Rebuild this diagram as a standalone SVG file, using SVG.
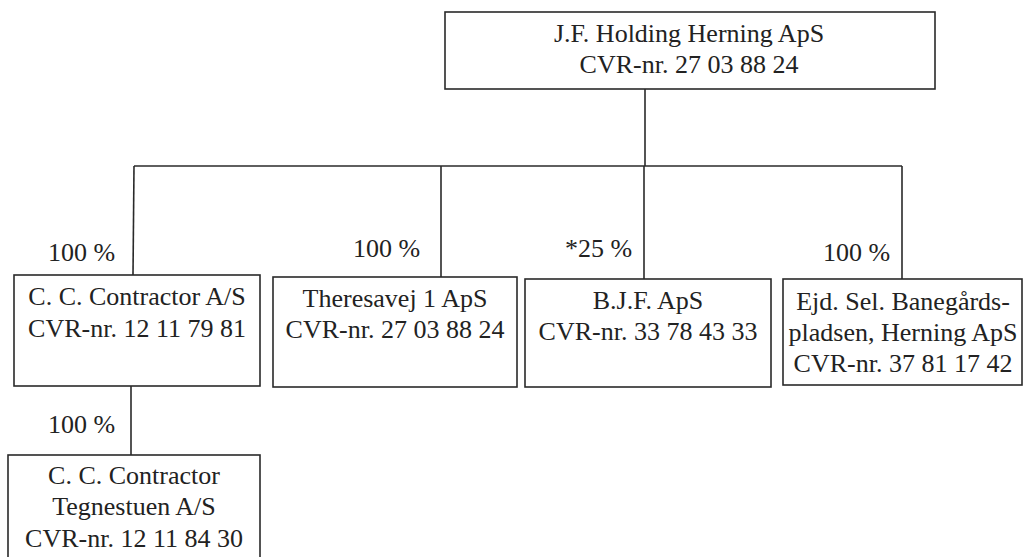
<svg xmlns="http://www.w3.org/2000/svg" width="1025" height="557" viewBox="0 0 1025 557">
<style>
.box{fill:#fff;stroke:#2a2a2a;stroke-width:1.6}
.ln{stroke:#2a2a2a;stroke-width:1.6;fill:none}
text{font-family:"Liberation Serif","Times New Roman",serif;font-size:26px;fill:#222}
.c{text-anchor:middle}
</style>
<rect width="1025" height="557" fill="#fff"/>
<g id="connectors">
<line class="ln" x1="645" y1="89" x2="645" y2="166"/>
<line class="ln" x1="134" y1="166" x2="902" y2="166"/>
<line class="ln" x1="134" y1="166" x2="133" y2="275"/>
<line class="ln" x1="441" y1="166" x2="441" y2="277"/>
<line class="ln" x1="644" y1="166" x2="644" y2="279"/>
<line class="ln" x1="902" y1="166" x2="902" y2="279"/>
<line class="ln" x1="131" y1="386" x2="131" y2="455"/>
<text x="48" y="261">100 %</text>
<text x="353" y="257">100 %</text>
<text x="565" y="257">*25 %</text>
<text x="823" y="261">100 %</text>
<text x="48" y="433">100 %</text>
</g>
<g id="holding">
<rect class="box" x="445" y="12" width="490" height="77"/>
<text class="c" x="689" y="42">J.F. Holding Herning ApS</text>
<text class="c" x="689" y="73">CVR-nr. 27 03 88 24</text>
</g>
<g id="cc-contractor">
<rect class="box" x="14" y="275" width="246" height="111"/>
<text class="c" x="137" y="305">C. C. Contractor A/S</text>
<text class="c" x="137" y="337">CVR-nr. 12 11 79 81</text>
</g>
<g id="theresavej">
<rect class="box" x="273" y="277" width="244" height="110"/>
<text class="c" x="395" y="307">Theresavej 1 ApS</text>
<text class="c" x="395" y="338">CVR-nr. 27 03 88 24</text>
</g>
<g id="bjf">
<rect class="box" x="525" y="279" width="246" height="108"/>
<text class="c" x="648" y="309">B.J.F. ApS</text>
<text class="c" x="648" y="340">CVR-nr. 33 78 43 33</text>
</g>
<g id="ejd-sel">
<rect class="box" x="783" y="279" width="239" height="106"/>
<text class="c" x="903" y="310">Ejd. Sel. Banegårds-</text>
<text class="c" x="903" y="341">pladsen, Herning ApS</text>
<text class="c" x="903" y="372">CVR-nr. 37 81 17 42</text>
</g>
<g id="tegnestuen">
<rect class="box" x="8" y="455" width="252" height="110"/>
<text class="c" x="134" y="484">C. C. Contractor</text>
<text class="c" x="134" y="515">Tegnestuen A/S</text>
<text class="c" x="134" y="547">CVR-nr. 12 11 84 30</text>
</g>
</svg>
